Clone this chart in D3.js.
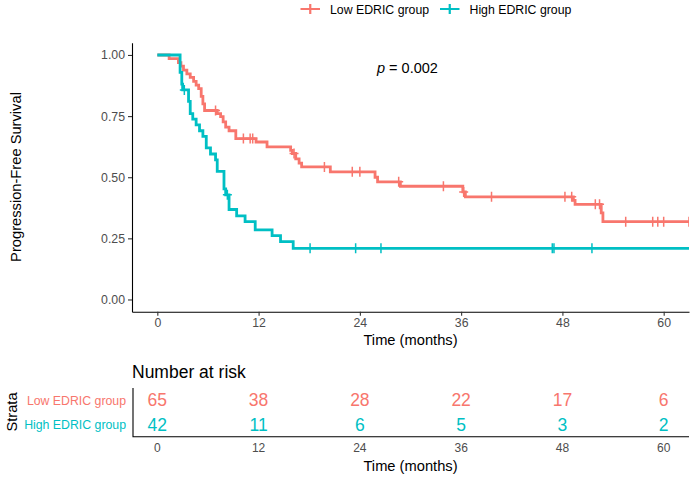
<!DOCTYPE html>
<html><head><meta charset="utf-8">
<script src="https://cdn.jsdelivr.net/npm/d3@7"></script>
<style>body{margin:0;background:#fff} text{font-family:"Liberation Sans",Arial,sans-serif}</style>
</head><body><svg id="c" width="693" height="480"></svg>
<script>
const groups = ["Low EDRIC group", "High EDRIC group"];
const colors = ["#F8766D", "#00BFC4"];

// Low EDRIC group: event times (months) and survival after each drop
const lowTimes = [1.4, 2.5, 2.8, 3.1, 3.5, 3.9, 4.3, 4.6, 4.9, 5.2, 5.4, 5.6, 7.1, 7.5, 7.8, 8.1, 8.5, 9.3, 11.7, 13.0, 15.8, 16.0, 16.4, 16.8, 17.1, 20.5, 25.8, 26.1, 28.8, 36.2, 36.5, 49.3, 49.5, 52.6, 52.8];
const lowSurv  = [0.985, 0.969, 0.954, 0.938, 0.923, 0.908, 0.892, 0.877, 0.862, 0.831, 0.800, 0.773, 0.760, 0.748, 0.726, 0.705, 0.690, 0.658, 0.644, 0.624, 0.610, 0.597, 0.575, 0.558, 0.542, 0.522, 0.500, 0.481, 0.463, 0.440, 0.420, 0.405, 0.389, 0.354, 0.318];
const lowCensor = [6.9, 10.2, 11.0, 11.3, 16.2, 19.8, 23.1, 24.0, 28.6, 33.9, 36.3, 39.6, 48.3, 49.1, 51.9, 52.4, 55.5, 58.7, 59.3, 60.0, 63.0];

// High EDRIC group
const highTimes = [2.7, 2.9, 3.0, 3.7, 3.9, 4.2, 4.6, 5.0, 5.4, 5.8, 6.3, 6.9, 7.1, 7.9, 8.1, 8.5, 9.4, 10.4, 11.6, 13.6, 14.6, 16.1];
const highSurv  = [0.929, 0.881, 0.857, 0.810, 0.760, 0.738, 0.714, 0.690, 0.667, 0.620, 0.595, 0.571, 0.524, 0.452, 0.428, 0.368, 0.342, 0.318, 0.285, 0.261, 0.237, 0.209];
const highCensor = [3.2, 8.3, 18.1, 23.5, 26.5, 46.8, 47.0, 51.5];

const timeTicks = [0, 12, 24, 36, 48, 60];
const survTicks = [0, 0.25, 0.5, 0.75, 1];
const riskLow  = [65, 38, 28, 22, 17, 6];
const riskHigh = [42, 11, 6, 5, 3, 2];
const pValue = "0.002";

const svg = d3.select("#c");
const x = d3.scaleLinear().domain([-3, 63]).range([132, 689]);
const y = d3.scaleLinear().domain([-0.05, 1.05]).range([311.7, 42.75]);

svg.append("clipPath").attr("id", "clip").append("rect")
  .attr("x", 132).attr("y", 42).attr("width", 557).attr("height", 270);

const series = [
  {times: lowTimes, surv: lowSurv, cens: lowCensor, color: colors[0]},
  {times: highTimes, surv: highSurv, cens: highCensor, color: colors[1]}
];
const line = d3.line().x(d => x(d[0])).y(d => y(d[1])).curve(d3.curveStepAfter);
const plot = svg.append("g").attr("clip-path", "url(#clip)");
series.forEach(s => {
  const pts = [[0, 1]].concat(s.times.map((t, i) => [t, s.surv[i]]));
  pts.push([63, s.surv[s.surv.length - 1]]);
  plot.append("path").attr("d", line(pts)).attr("fill", "none")
    .attr("stroke", s.color).attr("stroke-width", 2.8);
  const survAt = c => { let v = 1; s.times.forEach((t, i) => { if (t <= c) v = s.surv[i]; }); return v; };
  s.cens.forEach(c => {
    const cx = x(c), cy = y(survAt(c));
    plot.append("path").attr("d", `M${cx-4.5},${cy}H${cx+4.5}M${cx},${cy-5}V${cy+5}`)
      .attr("stroke", s.color).attr("stroke-width", 1.5).attr("fill", "none");
  });
});

// axes
const yAxis = svg.append("g").attr("transform", "translate(132,0)")
  .call(d3.axisLeft(y).tickValues(survTicks).tickFormat(d3.format(".2f")).tickSize(4).tickSizeOuter(0));
const xAxis = svg.append("g").attr("transform", "translate(0,311.7)")
  .call(d3.axisBottom(x).tickValues(timeTicks).tickSize(4).tickSizeOuter(0));
[yAxis, xAxis].forEach(a => {
  a.select(".domain").attr("stroke", "#000").attr("stroke-width", 1.1);
  a.selectAll(".tick line").attr("stroke", "#333").attr("stroke-width", 1.1);
  a.selectAll(".tick text").attr("font-size", 12.3).attr("fill", "#4d4d4d")
    .attr("font-family", "Liberation Sans, Arial, sans-serif");
});
xAxis.selectAll(".tick text").attr("dy", "0.71em").attr("y", 7);

svg.append("text").attr("x", 410.5).attr("y", 345).attr("text-anchor", "middle")
  .attr("font-size", 14.7).text("Time (months)");
svg.append("text").attr("transform", "translate(21,177) rotate(-90)").attr("text-anchor", "middle")
  .attr("font-size", 14.7).text("Progression-Free Survival");

const pt = svg.append("text").attr("x", 377).attr("y", 73).attr("font-size", 14.5);
pt.append("tspan").attr("font-style", "italic").text("p");
pt.append("tspan").text(" = " + pValue);

// legend
const legX = [300.5, 440];
groups.forEach((g, i) => {
  const lx = legX[i];
  svg.append("path").attr("d", `M${lx},9H${lx+19.5}M${lx+9.75},4V14`)
    .attr("stroke", colors[i]).attr("stroke-width", 2.2).attr("fill", "none");
  svg.append("text").attr("x", lx + 29.5).attr("y", 13.5).attr("font-size", 12.3).attr("fill", "#000").text(g);
});

// risk table
svg.append("text").attr("x", 132).attr("y", 378).attr("font-size", 17.5).text("Number at risk");
const ry = d3.scaleBand().domain(groups).range([388, 436.7]);
const risks = [riskLow, riskHigh];
groups.forEach((g, i) => {
  const cy = ry(g) + ry.bandwidth() / 2;
  svg.append("g").selectAll("text").data(risks[i]).join("text")
    .attr("x", (d, j) => x(timeTicks[j])).attr("y", cy).attr("dy", "0.36em")
    .attr("text-anchor", "middle").attr("font-size", 17.5).attr("fill", colors[i]).text(d => d);
  svg.append("text").attr("x", 126).attr("y", cy).attr("dy", "0.36em").attr("text-anchor", "end")
    .attr("font-size", 12.3).attr("fill", colors[i]).text(g);
});
svg.append("path").attr("d", "M133,388V436.7H689").attr("stroke", "#000").attr("stroke-width", 1.1).attr("fill", "none");
svg.append("g").selectAll("text").data(timeTicks).join("text")
  .attr("x", d => x(d)).attr("y", 448).attr("dy", "0.36em").attr("text-anchor", "middle")
  .attr("font-size", 12).attr("fill", "#4d4d4d").text(d => d);
svg.append("text").attr("x", 410.5).attr("y", 470.5).attr("text-anchor", "middle")
  .attr("font-size", 14.7).text("Time (months)");
svg.append("text").attr("transform", "translate(17,412) rotate(-90)").attr("text-anchor", "middle")
  .attr("font-size", 14.7).text("Strata");
</script></body></html>
